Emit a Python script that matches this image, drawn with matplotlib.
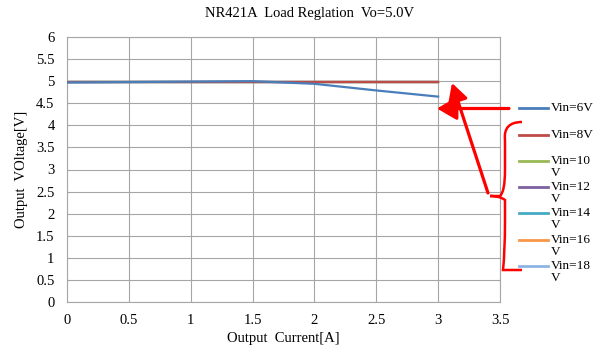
import matplotlib.pyplot as plt
from matplotlib.lines import Line2D
from matplotlib.patches import FancyArrowPatch, PathPatch
from matplotlib.path import Path
import numpy as np

plt.rcParams['font.family'] = ['Liberation Serif', 'DejaVu Serif']

current = [0, 0.5, 1, 1.5, 2, 2.5, 3]
labels = ['Vin=6V', 'Vin=8V', 'Vin=10\nV', 'Vin=12\nV', 'Vin=14\nV', 'Vin=16\nV', 'Vin=18\nV']
colors = ['#4a7ebb', '#be4b48', '#98b954', '#7d60a0', '#46aac5', '#f79646', '#8eb4e3']
v6 = [4.97, 4.98, 4.99, 5.00, 4.94, 4.79, 4.65]
v8 = [4.99, 4.99, 4.99, 4.99, 4.99, 4.99, 4.99]
v10 = [4.99, 4.99, 4.99, 4.99, 4.99, 4.99, 4.99]
v12 = [4.99, 4.99, 4.99, 4.99, 4.99, 4.99, 4.99]
v14 = [4.99, 4.99, 4.99, 4.99, 4.99, 4.99, 4.99]
v16 = [4.99, 4.99, 4.99, 4.99, 4.99, 4.99, 4.99]
v18 = [4.99, 4.99, 4.99, 4.99, 4.99, 4.99, 4.99]
series = [v6, v18, v16, v14, v12, v10, v8]
order = [0, 6, 5, 4, 3, 2, 1]

fig = plt.figure(figsize=(6.03, 3.5), dpi=100)
W, H = 603, 350
ax = fig.add_axes([67 / W, 1 - 302 / H, (500 - 67) / W, (302 - 37) / H])
for vals, i in zip(series, order):
    ax.plot(current, vals, color=colors[i], lw=1.6, zorder=3 if i else 4)

ax.set_xlim(0, 3.5)
ax.set_ylim(0, 6)
ax.set_xticks(np.arange(0, 3.51, 0.5))
ax.set_yticks(np.arange(0, 6.01, 0.5))
ax.set_xticklabels(['0', '0.5', '1', '1.5', '2', '2.5', '3', '3.5'])
ax.set_yticklabels(['0', '0.5', '1', '1.5', '2', '2.5', '3', '3.5', '4', '4.5', '5', '5.5', '6'])
ax.grid(True, color='#a6a6a6', lw=0.8)
ax.set_axisbelow(True)
ax.tick_params(length=0, labelsize=10.5, pad=9)
for s in ax.spines.values():
    s.set_color('#a6a6a6')
    s.set_linewidth(0.8)
ax.set_xlabel('Output  Current[A]', fontsize=10.5, labelpad=3)
ax.set_ylabel('Output  VOltage[V]', fontsize=10.5, labelpad=6)
fig.text(310 / W, 1 - 14 / H, 'NR421A  Load Reglation  Vo=5.0V', ha='center', va='center', fontsize=10.5)

# overlay in pixel coordinates for legend and annotations
ov = fig.add_axes([0, 0, 1, 1], facecolor='none')
ov.set_xlim(0, W)
ov.set_ylim(H, 0)
ov.axis('off')

leg_y = [108, 135, 161, 187, 213, 240, 266]
for lab, c, y in zip(labels, colors, leg_y):
    ov.add_line(Line2D([519, 548], [y, y], color=c, lw=2))
    ov.text(551, y - 6, lab, fontsize=9.5, va='top', ha='left', linespacing=1.0)

red = '#ff0000'
ov.add_patch(FancyArrowPatch((509, 108.5), (437, 108.5), arrowstyle='-|>,head_length=12,head_width=7',
                             color=red, lw=2.3, mutation_scale=1, shrinkA=0, shrinkB=0))
ov.add_patch(FancyArrowPatch((488, 193), (452, 83), arrowstyle='-|>,head_length=11,head_width=6',
                             color=red, lw=2.3, mutation_scale=1, shrinkA=0, shrinkB=0))
brace = Path([(522, 122), (503, 122), (505, 140), (505, 170), (505, 192), (500, 196), (490, 196),
              (500, 196), (505, 200), (505, 222), (505, 252), (503, 270), (522, 270)],
             [Path.MOVETO, Path.CURVE3, Path.CURVE3, Path.LINETO, Path.CURVE3, Path.CURVE3, Path.LINETO,
              Path.CURVE3, Path.CURVE3, Path.LINETO, Path.CURVE3, Path.CURVE3, Path.LINETO])
ov.add_patch(PathPatch(brace, fill=False, edgecolor=red, lw=1.8))

fig.savefig('out.png', dpi=100)
